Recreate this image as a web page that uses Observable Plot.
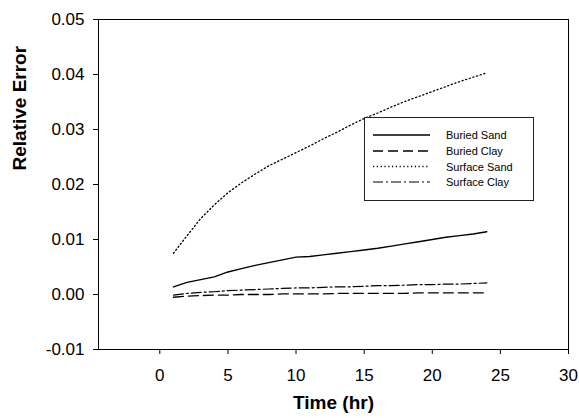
<!DOCTYPE html>
<html>
<head>
<meta charset="utf-8">
<script src="https://cdn.jsdelivr.net/npm/d3@7"></script>
<script src="https://cdn.jsdelivr.net/npm/@observablehq/plot@0.6"></script>
<style>
  html, body { margin: 0; padding: 0; background: #fff; }
  #chart { width: 579px; height: 418px; }
</style>
</head>
<body>
<div id="chart"></div>
<script>
const hours = [1,2,3,4,5,6,7,8,9,10,11,12,13,14,15,16,17,18,19,20,21,22,23,24];
const buriedSand = [0.0014,0.0022,0.0027,0.0032,0.0041,0.0047,0.0053,0.0058,0.0063,0.0068,0.0069,0.0072,0.0075,0.0078,0.0081,0.0084,0.0088,0.0092,0.0096,0.0100,0.0104,0.0107,0.0110,0.0114];
const buriedClay = [-0.0005,-0.0003,-0.0002,-0.0001,-0.0001,0.0000,0.0000,0.0000,0.0001,0.0001,0.0001,0.0001,0.0002,0.0002,0.0002,0.0002,0.0002,0.0002,0.0003,0.0003,0.0003,0.0003,0.0003,0.0003];
const surfaceSand = [0.0075,0.0107,0.0138,0.0163,0.0185,0.0203,0.0219,0.0234,0.0246,0.0258,0.0270,0.0283,0.0295,0.0308,0.0320,0.0330,0.0341,0.0351,0.0360,0.0369,0.0378,0.0387,0.0395,0.0403];
const surfaceClay = [-0.0001,0.0002,0.0004,0.0005,0.0007,0.0008,0.0009,0.0010,0.0011,0.0012,0.0012,0.0013,0.0014,0.0014,0.0015,0.0016,0.0016,0.0017,0.0018,0.0018,0.0019,0.0019,0.0020,0.0021];

const seriesNames = ["Buried Sand", "Buried Clay", "Surface Sand", "Surface Clay"];
const seriesValues = [buriedSand, buriedClay, surfaceSand, surfaceClay];
const seriesDash = [null, "10,5", "1.2,2.6", "10,3,2,3"];
const seriesWidth = [1.4, 1.3, 1.3, 1.2];

const xTicks = [0, 5, 10, 15, 20, 25, 30];
const yTicks = [-0.01, 0, 0.01, 0.02, 0.03, 0.04, 0.05];

const lineMarks = seriesNames.map((name, i) =>
  Plot.line(hours.map((h, j) => ({t: h, v: seriesValues[i][j]})), {
    x: "t", y: "v", stroke: "black", strokeWidth: seriesWidth[i],
    strokeDasharray: seriesDash[i]
  })
);

const chart = Plot.plot({
  width: 579,
  height: 418,
  marginLeft: 98,
  marginRight: 11,
  marginTop: 19,
  marginBottom: 69,
  style: {fontFamily: "Liberation Sans, Arial, sans-serif", fontSize: "17px", color: "black", background: "white"},
  x: {domain: [-4.5, 30]},
  y: {domain: [-0.01, 0.05]},
  marks: [
    ...lineMarks,
    Plot.frame({stroke: "black", strokeWidth: 1}),
    Plot.axisX({ticks: xTicks, tickSize: 5, tickPadding: 14, label: null, fontSize: 17}),
    Plot.axisY({ticks: yTicks, tickSize: 5, tickPadding: 9, label: null, fontSize: 17, tickFormat: d => d.toFixed(2)}),
    Plot.text(["Time (hr)"], {frameAnchor: "bottom", dy: 59, fontSize: 19, fontWeight: "bold"}),
    Plot.text(["Relative Error"], {frameAnchor: "left", dx: -79, dy: -14, rotate: -90, fontSize: 19, fontWeight: "bold"})
  ]
});

// Legend box
const svg = d3.select(chart);
const lg = svg.append("g").attr("font-family", "Liberation Sans, Arial, sans-serif").attr("text-anchor", "start");
lg.append("rect").attr("x", 364.5).attr("y", 117.5).attr("width", 169).attr("height", 83)
  .attr("fill", "white").attr("stroke", "#222").attr("stroke-width", 1);
const rowY = [135, 151, 166.5, 182];
seriesNames.forEach((name, i) => {
  lg.append("line").attr("x1", 373).attr("x2", 430).attr("y1", rowY[i]).attr("y2", rowY[i])
    .attr("stroke", "black").attr("stroke-width", seriesWidth[i])
    .attr("stroke-dasharray", seriesDash[i]);
  lg.append("text").attr("x", 446).attr("y", rowY[i] + 4).attr("font-size", "11px")
    .attr("text-anchor", "start").attr("fill", "black").text(name);
});

document.getElementById("chart").appendChild(chart);
</script>
</body>
</html>
